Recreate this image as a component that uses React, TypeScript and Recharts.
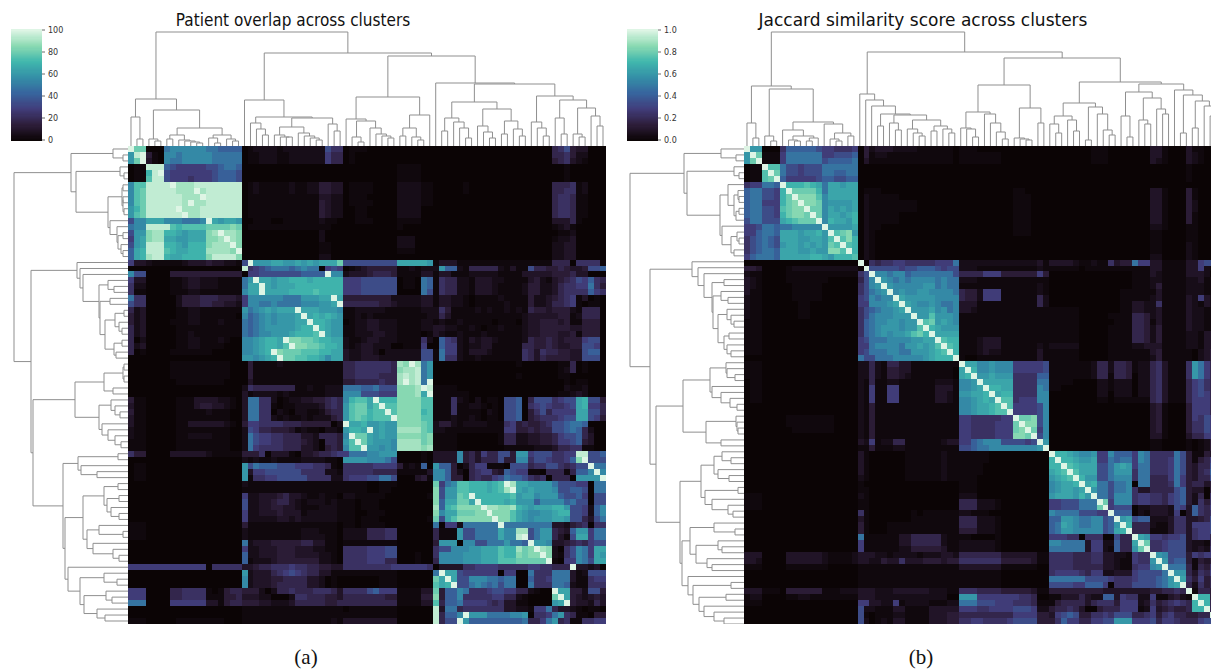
import { ScatterChart, Scatter, XAxis, YAxis } from 'recharts'

// one character per cell, looked up in CELL_LEVELS (0 to 100)
// segments follow the four cluster blocks: 3 3 13 | 17 | 15 | 29 cells, missing cells are 0
const overlapRows = [
  'kgg 000 abbbbbbaa9999 01222212222222866 0111 00000000000000000000568433',
  'cjk 410 bbabbbbbaaaaa 01122211222222755 01 00000000000000000000556422',
  'cgk 310 baabbbbbaaaaa 01122211222222755 01 00000000000000000000456321',
  '011 jjj 9877777889aa9 0 000000000111100 000000000000000000000010',
  '011 ejk 8777777789998 0 000000000111100 000000000000000000000010',
  '011 fjj 8777677789998 0 000000000111100 000000000000000000000010',
  'bff jjj jkiiijjjjjjjj 01211111211224433 011110000222211 00000100000000000000555612',
  'bfg jjj jjiiikijjjjjj 01211111211224433 011110000222211 00000100000000000000556612',
  'bfg jjj jjjiiikjjjjjj 01111111111113322 011100000222211 00000000000000000000566511',
  'bfg jjj jjjikiijjjjjj 01111111111114322 011110000222211 00000000000000000000566511',
  'ceg jjj jjkiiijjjjjjj 01111111111114322 001100000222200 00000000000000000000566511',
  'cfg jjj jjjkiijjjjjjj 01111111111114322 001100000222200 00000000000000000000566511',
  '8bb ddd bbbaaabkdcddc 00111001111112110 001110000111100 00000000000000000000333510',
  'abb jjj jfeffffgggghg 01111111111111100 000000000100 00000000000000000000123100',
  '8cc hii eedcdddhikiih 00000000000002000 000000000000 00000000000000000000011200',
  '7cd hii ddccdddhhikih 00000000000002000 000000000222 00000000000000000000122300',
  '8cd jjj eedceeehiiikh 00000000000001100 000000000222 00000000000000000000223300',
  '9de jjj feddeeeiiiihk 00000000000001100 000000000111 00000000000000000000223300',
  '9de ijj eddeeeehjjjjh 00000000000002200 000000000000 00000000000000000000223300',
  '733 211 1112333433221 8kcccddccdcdcdddg 888888888dddddc 13331111111111111111555066661',
  '0 0 0 j6789aaa9abaa0787 012344444112122 2c992155555213118554454334889',
  'b88 000 0444444444444 07788888889999kbb 233345554111133 13311122222111133333444533',
  '733 000 0112332221111 ackddcddeeedeeeee 7778888880110a9 16552213332211113421345687965',
  '622 000 0112332221111 addkdcdddeeeeeeee 7778888880110a9 16552213332111124422356677a64',
  '611 000 0111221111111 bddkddddeeeefeeee 7778888880000a8 16552213332111124422356666976',
  'a66 000 0024445554443 7bbbbbbaaacccddkd 444444442222233 1332210111121111422345671301',
  '866 000 0024445544332 7bbaabaaaabbbccdk 555555443222233 1332210111112111422355671011',
  '523 000 0011221111111 cabcdcdddkdddcccb 112222211111122 2641111212112121544344421555',
  '423 000 0011221111110 b9abcbcccdkdededc 112121111111112 2531111111111112333334412555',
  '423 000 0111221112111 a9abcbcccddkeedcc 012233222111122 1211211111011102334443411444',
  '523 000 0011111111111 a9abcccccdeekedcc 112233222111122 3322112101121112334444433444',
  '523 000 0011211111111 a9abbcccdeeefkdcc 112223322111101 3211211121111112334443341444',
  '502 000 0011221112100 bbcdeedkhhggfeedd 211233222111162 0976213233211112544543444788',
  '523 000 0011221111000 bbcdeedfkhhggfeed 212332220011170 0977212233111115544543344887',
  '501 000 0111111100000 bbcdekhgggfffeedd 322332022222288 1a77213332111116536554433899',
  '000 000 0000000000000 ccbcdekggffeedbdd 322333222222288 1a66211211111116535444433888',
  '000 000 0111111111100 04111121111111111 556666665ihkiac 00000000000000100000011501',
  '000 000 0111111111100 04111111111111111 556666665hiijac 00000000000000000000012501',
  '000 000 0111111111100 04111111111111111 556666555ijijac 00000000000000100000011000',
  '000 000 0011111111000 03111111111111111 445555655ikijak 00000000000000000000001011',
  '000 000 0000000000000 26555555511211222 aaa99a888hhhikj 11110000000000000000002112',
  '000 000 0000000000000 31222212111111222 bbb888777hhhidk 11111100000000000000011232',
  '411 000 0011133332210 3aa66201223344565 beffdkeeehhhhff 1116 21020110889058886788 de884',
  '311 000 0011134433210 3aa66101122223565 cfggdfkffhhhhff 1116 11221010889067876678 de775',
  '411 000 0011111211100 3aa66021022112455 cfggeffkfhhhhef 1116 11110210889046857777 dd885',
  '311 000 0011111111100 3aa66212112122245 cfgfefffkhhhhff 1112 11210110889045666788 dd874',
  '311 000 0011333333210 47766665554444402 kddeccdcchhhhgf 2442 12222111 6745 4456889a a90',
  '211 000 0011111111100 28755444312110221 ceedkcdcciiiigf 2211 11111111 7744 5455889 a952',
  '211 000 0011222211100 2a877665553325554 bkggdcdcchhhhgh 1111 00000001 5522 3344578 8953',
  '111 000 0011111111100 2a877665554320554 cfkgdcccbiiiigh 1111 00000001 5522 3344577 8943',
  '111 000 0011111111100 2a766665553320454 bffkccbcbiiiihi 1111 00000000 1111 1222355 6611',
  '644 000 0333333211111 44460333103345567 7aaabbccc000010 3333b453755884cc78886677jj889',
  '000 000 0000000000000 21211211112222110 ccccbbba8000010 3333b453555844bb68876679hk888',
  '011 000 0000000000000 c8a99988877766510 666667777412190 c99402577111088856688656 88kaa',
  '011 000 0000000000000 c3778888886666221 666665555111113 bb942056774398771105551599bkb',
  '011 000 0000000000000 c1667788888666622 677788aa8000341 bb9440565578a9986560555 0cccck',
  '000 000 0000000000000 21111111111111111 111100111000000 g7abffeeedefkiddcccca88877 0aa',
  '000 000 0000000000000 11111111111111111 111100110000000 h8ccffeeedefikdcdcccb8899 8 0 a a',
  '000 000 0000000000000 72233345332112110 221111100000001 h8ccgfkeeeeeefcddbccc9889 7 0 88',
  '000 000 0000000000000 82233455321222121 110111000000000 h9ddggdkeeeedeccc9bbbb9a8 8 0 8 8',
  '000 000 0000000000000 82233443321112221 110111000000000 i9efhhhhkiihhiedcdddeec8 8 7 2 9b',
  '000 000 0000000000000 72233343331222221 110011100000000 hbddggghhkhhhfdcbbccdee8 8 7 2 9b',
  '000 000 0000000000000 72222233232222221 110111000000001 g8dfhhhhhhkhhfdcbcccddc8 8 5 3 8a',
  '111 000 0000000000000 41111111111111110 110111100000000 a0772aaaaaakaaaaaaaa332456066',
  '111 000 0000000000000 21111111112221110 222255566000000 5111c88aaaadbbii8acc5439cc7aa',
  '111 000 0000000000000 21111111112222110 222255566000000 5111c88aaaadbbjk8acc5318dd7aa',
  '000 000 0000000000000 a2333444445533110 111111111000000 4ccc0bb88aaacaa9kccb334565788',
  '000 000 0000000000000 72233344433322110 666677788000000 688bbbccdddfeeighkih2068ba7dd',
  '000 000 0000000000000 92233344433332210 666677788000100 6bbbbcccdddfeehghhkh2168ba7dc',
  '000 000 0000000000000 91222344444442210 666677755000100 5bbbbcccdddfffgggggk1077ba8dd',
  '777 777 7777777066666 33455666766554433 666666667777776 03333667777666667766555k33230',
  '000 000 0000000000000 c2333567876553311 111111111000000 akdd877777707700a666aaa312888',
  '000 000 0000000000000 b2333445555332010 000000111000000 gdkd88bbbaa9aa009667aaa311677',
  '000 000 0000000000000 b2333455555332010 000000111000000 fdek88aba9a8aa00a666aa9211666',
  '777 000 0556666101455 44420255655566653 666689777111133 g499ba66678877552100kdd442884',
  '777 000 0556666111445 33322000266555443 555555544111144 h499b666667755210000gkd432343',
  'aaa 000 0777777331455 44433222355555445 555555555111133 f599a777765633110000cdk433253',
  '000 000 0000000000000 11111111111111111 011111111000000 j3aa566666663322177a533210110',
  '000 000 0000000000000 11111111111111111 111111111000000 j599bkcccaaaabbc0667ac6511044',
  '111 000 0011111111000 11111111111111121 333333333000000 j588kc999999999a557ac56116677',
]

// lower triangle only, the Jaccard score is symmetric
const jaccardRows = [
  'k',
  'ck',
  'cgk',
  '011 k',
  '011 fk',
  '011 fgk',
  '677 aa9 k',
  '9aa 887 ek',
  '9aa 887 egk',
  '9aa 777 eghk',
  '9aa 887 fghhk',
  '9aa 887 eghhgk',
  '8aa 888 defgggk',
  '778 aa9 aabbbbbk',
  '779 aa9 dddcddeck',
  '689 a98 dddccddcfk',
  '689 a98 cddcdcdcgfk',
  '689 aa9 dddccdcchhfk',
  '79a aa9 dddddeedceeefk',
  '000 000 0000000000000 k',
  '443 000 0122222222222 0k',
  '211 000 0111111111111 68k',
  '321 000 0111111100000 58bk',
  '321 000 0011111000000 68bck',
  '311 000 0011111000000 68abck',
  '211 000 0011111000000 78babbk',
  '211 000 0001100000000 77bbbcdk',
  '211 000 0001100000000 689abbcdk',
  '211 000 0001100000000 68abbbccck',
  '111 000 0000000000000 69abbccbcck',
  '111 000 0000000000000 69abcccbccfk',
  '111 000 0000000000000 69abcbccdfgek',
  '111 000 0000000000000 78aaabbbbccddk',
  '111 000 0000000000000 77abbbbaccdcdfk',
  '111 000 0000000000000 78aaabbaacccdefk',
  '000 000 0000000000000 a88aaabbbbbcdeeek',
  '111 000 0000000000000 22521553311111111 k',
  '111 000 0000000000000 22521443311111110 dk',
  '111 000 0000000000000 22521443211111110 dek',
  '011 000 0000000000000 21511221111112221 bbck',
  '011 000 0000000000000 21711771111113331 bbcdk',
  '011 000 0000000000000 21711771111113321 ccddek',
  '011 000 0000000000000 21711771111113321 bbcdedk',
  '000 000 0000000000000 21411111111111111 bbcddefk',
  '000 000 0000000000000 21411111111111111 bbcddeffk',
  '000 000 0111111110000 21411111111111111 776666677k',
  '000 000 0111111110000 21411111111111111 776666777gk',
  '000 000 0011111110000 21411111111111111 776666777ghk',
  '000 000 0000000000000 21411111111111111 776666777hhgk',
  '000 000 0000000000000 32712255111111233 779abbb888878k',
  '000 000 0000000000000 11411122111111111 889aabbbbbbbbck',
  '000 000 0000000000000 31000000111111211 111110000000000 k',
  '000 000 0000000000000 31000000111111211 111110000000000 ek',
  '000 000 0000000000000 31000000111111211 111100000000000 eek',
  '000 000 0000000000000 31000000111111211 111100000000000 defk',
  '000 000 0000000000000 21000000111111211 111000000000000 cdefk',
  '000 000 0000000000000 10000000000000000 111000000000000 bcddek',
  '000 000 0000000000000 11000000000000000 111000000000000 bcddcdk',
  '111 000 0000000000000 21000000000000000 222000000000000 cdddceck',
  '111 000 0000000000000 11000000000000000 555222100000000 77888aaak',
  '111 000 0000000000000 11000000000000000 555222100000000 77888aaagk',
  '000 000 0000000000000 61000000010111111 221110000000000 baaaa88877k',
  '000 000 0000000000000 31000000011111111 555222100000000 99ccbaabb89k',
  '000 000 0000000000000 41000111111111111 555222100000000 9adcbaabb89ck',
  '000 000 0000000000000 41000111111111111 444222100000000 9accbbbbb89dek',
  '000 000 0000000000000 a1111113355555211 110000100000000 77766066600855k',
  '000 000 0000000000000 71111113355555211 222222100000000 bbaaaa37722955dk',
  '000 000 0000000000000 71111112244444311 222222100000000 aaaaaa37721955cgk',
  '333 000 0333333211112 33322122221222332 555555533333311 66665556633221766k',
  '332 000 0333333211112 33224336333444344 666666644444311 66665556633211766ck',
  '111 000 0111111100000 11111111111111111 333333311111100 6666555553 3211 677bck',
  '000 000 0000000000000 11111111111111111 111111100000000 67777657722333788 88ak',
  '000 000 0000000000000 11111111111111111 111111100000000 aaaaaa88887666 78889ack',
  '000 000 0000000000000 11111111111111111 111111100000000 88887799970666888 89acdk',
  '333 111 0444444111222 33322233333322211 666555544444311 44444444433333333 445565k',
  '122 000 0112211111111 33322222222222200 ccc777777766500 11333532299376622 7113421k',
  '111 000 0000000000000 77332271222211122 aaa888777666511 14555535666477723 6456765ek',
  '000 000 0000000000000 82211133111133333 777667777888722 45565300455577712 7345445eek',
  '000 000 0000000000000 81011122111133344 555555555777744 37898446676888556 74675544 55k',
  '000 000 0000000000000 82012133111133344 667766667888844 469775577 88ccc777 85776555 788k',
]

const overlapTicks = [0, 20, 40, 60, 80, 100]
const jaccardTicks = [0, 0.2, 0.4, 0.6, 0.8, 1]

// dendrograms: a merge is [height, left, right], 0 is a leaf
const overlapTop1 = [47, [29, 0, [7, 0, 0]], [36, [7, 0, [5, 0, 0]], [18, [11, [7, 0, 0], [6, 0, [5, 0, [4, 0, [3, 0, 0]]]]], [11, [8, 0, [3, 0, 0]], [7, 0, [5, 0, 0]]]]]]
const overlapTop2 = [46, 0, [29, [23, 0, [17, 0, [11, 0, 0]]], [28, [19, [11, 0, [9, 0, [9, 0, 0]]], [13, 0, [10, 0, [8, 0, [6, 0, 0]]]]], [22, 0, [15, 0, 0]]]]]
const overlapTop3 = [49, [27, 0, [25, [9, 0, [4, 0, 0]], [18, 0, [12, 0, [10, 0, [8, 0, 0]]]]]], [31, [18, [10, 0, 0], [9, 0, [6, 0, 0]]], 0]]
const overlapTop4 = [63, 0, [62, [44, [28, [15, 0, 0], [24, 0, [18, 0, [8, 0, 0]]]], [37, [20, 0, [14, 0, [8, 0, 0]]], [25, [12, 0, 0], [17, 0, [10, 0, 0]]]]], [50, [24, 0, [18, 0, [10, 0, 0]]], [46, [28, 0, [12, 0, 0]], [38, [12, 0, [9, 0, 0]], [30, 0, [20, 0, 0]]]]]]]
const overlapTopTree = [114, overlapTop1, [93, overlapTop2, [90, overlapTop3, overlapTop4]]]

const overlapLeft1 = [57, [15, 0, [5, 0, 0]], [52, [8, 0, [4, 0, 0]], [20, [6, [5, 0, 0], [5, [5, 0, 0], [4, 0, 0]]], [18, 0, [11, 0, [10, [5, 0, 0], [7, 0, [5, 0, 0]]]]]]]]
const overlapLeft2 = [51, 0, [48, 0, [45, 0, [29, [20, 0, [14, 0, 0]], [28, [18, 0, 0], [23, [13, [4, 0, 0], [9, 0, [6, 0, 0]]], [14, [6, 0, 0], [12, 0, 0]]]]]]]]
const overlapLeft3 = [53, [24, [5, [4, 0, 0], [4, 0, 0]], [15, 0, 0]], [29, [17, 0, [13, 0, [8, 0, 0]]], [26, 0, [20, 0, [13, 0, [7, 0, 0]]]]]]
const overlapLeft4 = [65, [50, [10, 0, 0], [47, 0, [31, 0, 0]]], [63, [45, [24, [10, 0, 0], [21, [9, 0, 0], [17, 0, [9, 0, 0]]]], [41, [29, 0, [5, 0, 0]], [35, 0, [15, 0, [9, 0, 0]]]]], [60, 0, [48, [24, 0, [11, 0, 0]], [44, [22, 0, [16, 0, 0]], [31, 0, [23, 0, 0]]]]]]]
const overlapLeftTree = [114, overlapLeft1, [97, overlapLeft2, [95, overlapLeft3, overlapLeft4]]]

const jaccard1 = [60, [23, 0, [8, 0, 0]], [57, [10, 0, [5, 0, 0]], [24, [16, 0, [10, [6, 0, [5, 0, 0]], [8, [5, 0, 0], 0]]], [22, 0, [13, [7, 0, [5, 0, 0]], [10, 0, 0]]]]]]
const jaccard2 = [52, 0, [46, 0, [40, 0, [32, [20, 0, 0], [31, [23, 0, [16, 0, 0]], [26, [17, 0, [13, 0, [10, 0, 0]]], [20, [15, 0, 0], [17, 0, [13, 0, 0]]]]]]]]]
const jaccard3 = [61, [34, [18, 0, [17, 0, [9, 0, 0]]], [32, 0, [23, 0, [14, 0, [7, 0, 0]]]]], [38, [8, 0, [7, 0, [6, 0, 0]]], [23, 0, 0]]]
const jaccard4 = [64, [43, [30, [22, 0, [13, 0, 0]], [26, 0, [15, 0, 0]]], [39, [6, 0, 0], [32, 0, [16, 0, [11, 0, 0]]]]], [62, [54, [30, 0, [9, 0, 0]], [48, [26, 0, [22, 0, 0]], [37, 0, [32, 0, 0]]]], [56, 0, [51, [13, 0, 0], [45, [18, 0, 0], [40, 0, [30, 0, [20, 0, 0]]]]]]]]
const jaccardTree = [114, jaccard1, [94, jaccard2, [88, jaccard3, jaccard4]]]

const N = 80
const HEAT = 478
const DEPTH = 115
const SEGMENTS = [3, 3, 13, 17, 15, 29]
const CODES = '0123456789abcdefghijk'
const CELL_LEVELS = [0, 2, 5, 9, 13, 18, 23, 28, 34, 41, 48, 55, 60, 65, 70, 75, 80, 85, 90, 95, 100]

// mako colormap
const MAKO = ['#0b0405', '#2e1e3b', '#413d7b', '#37659e', '#348fa7', '#40b7ad', '#8bdab2', '#def5e5']

function mako(t: number) {
  const u = Math.max(0, Math.min(1, t)) * (MAKO.length - 1)
  const i = Math.min(Math.floor(u), MAKO.length - 2)
  const f = u - i
  const ch = (hex: string, s: number) => parseInt(hex.slice(s, s + 2), 16)
  const mix = (s: number) => Math.round(ch(MAKO[i], s) * (1 - f) + ch(MAKO[i + 1], s) * f)
  return `rgb(${mix(1)},${mix(3)},${mix(5)})`
}

function parseRow(row: string) {
  const parts = row.split(' ')
  // a few rows hold extra spaces inside the last block, those belong to it
  const all = [...parts.slice(0, 5), parts.slice(5).join('')]
  return SEGMENTS.map((n, i) => (all[i] || '').padEnd(n, '0').slice(0, n)).join('')
}

const level = (ch: string) => CELL_LEVELS[CODES.indexOf(ch)] / 100

function overlapCells() {
  const cells: { x: number; y: number; t: number }[] = []
  overlapRows.forEach((row, r) => {
    const line = parseRow(row)
    for (let c = 0; c < N; c++) cells.push({ x: c + 0.5, y: r + 0.5, t: level(line[c]) })
  })
  return cells
}

function jaccardCells() {
  const lines = jaccardRows.map(parseRow)
  const cells: { x: number; y: number; t: number }[] = []
  for (let r = 0; r < N; r++) {
    for (let c = 0; c < N; c++) {
      const ch = r >= c ? lines[r][c] : lines[c][r]
      cells.push({ x: c + 0.5, y: r + 0.5, t: level(ch) })
    }
  }
  return cells
}

function treeLinks(tree: any) {
  const links: { p: number; h: number }[][] = []
  let leaf = 0
  const walk = (node: any): { p: number; h: number } => {
    if (node === 0) {
      leaf += 1
      return { p: leaf - 0.5, h: 0 }
    }
    const a = walk(node[1])
    const b = walk(node[2])
    links.push([a, { p: a.p, h: node[0] }, { p: b.p, h: node[0] }, b])
    return { p: (a.p + b.p) / 2, h: node[0] }
  }
  walk(tree)
  return links
}

const noMargin = { top: 0, right: 0, bottom: 0, left: 0 }
const place = (left: number, top: number) => ({ position: 'absolute' as const, left, top })

function HeatCell({ cx, cy, payload }: any) {
  const s = HEAT / N
  return <rect x={cx - s / 2} y={cy - s / 2} width={s + 0.6} height={s + 0.6} fill={mako(payload.t)} shapeRendering="crispEdges" />
}

function Heatmap({ cells, left }: { cells: any[]; left: number }) {
  return (
    <div style={place(left, 146)}>
      <ScatterChart width={HEAT} height={HEAT} margin={noMargin}>
        <XAxis type="number" dataKey="x" domain={[0, N]} hide />
        <YAxis type="number" dataKey="y" domain={[0, N]} reversed hide />
        <Scatter data={cells} shape={HeatCell} isAnimationActive={false} />
      </ScatterChart>
    </div>
  )
}

const noDot = () => <g />
const linkLine = { stroke: '#8f8f8f', strokeWidth: 1 }

function TopTree({ tree, left }: { tree: any; left: number }) {
  return (
    <div style={place(left, 146 - DEPTH)}>
      <ScatterChart width={HEAT} height={DEPTH} margin={noMargin}>
        <XAxis type="number" dataKey="p" domain={[0, N]} hide />
        <YAxis type="number" dataKey="h" domain={[0, DEPTH]} hide />
        {treeLinks(tree).map((link, i) => (
          <Scatter key={i} data={link} line={linkLine} shape={noDot} isAnimationActive={false} />
        ))}
      </ScatterChart>
    </div>
  )
}

function LeftTree({ tree, left }: { tree: any; left: number }) {
  return (
    <div style={place(left - DEPTH, 146)}>
      <ScatterChart width={DEPTH} height={HEAT} margin={noMargin}>
        <XAxis type="number" dataKey="h" domain={[0, DEPTH]} reversed hide />
        <YAxis type="number" dataKey="p" domain={[0, N]} reversed hide />
        {treeLinks(tree).map((link, i) => (
          <Scatter key={i} data={link} line={linkLine} shape={noDot} isAnimationActive={false} />
        ))}
      </ScatterChart>
    </div>
  )
}

function ColorBar({ left, ticks, digits }: { left: number; ticks: number[]; digits: number }) {
  const max = ticks[ticks.length - 1]
  const levels = Array.from({ length: 101 }, (_, i) => ({ x: 0.5, y: (i / 100) * max, t: i / 100 }))
  const BarCell = ({ cx, cy, payload }: any) => (
    <rect x={cx - 15.5} y={cy - 0.8} width={31} height={1.6} fill={mako(payload.t)} shapeRendering="crispEdges" />
  )
  return (
    <div style={place(left, 23)}>
      <ScatterChart width={62} height={124} margin={{ top: 7, right: 0, bottom: 7, left: 0 }}>
        <XAxis type="number" dataKey="x" domain={[0, 1]} hide />
        <YAxis
          type="number"
          dataKey="y"
          orientation="right"
          width={31}
          domain={[0, max]}
          ticks={ticks}
          interval={0}
          axisLine={false}
          tickSize={3}
          tickMargin={3}
          tickLine={{ stroke: '#444', strokeWidth: 0.8 }}
          tick={{ fontSize: 8, fill: '#333', fontFamily: 'DejaVu Sans', textAnchor: 'start' }}
          tickFormatter={(v: number) => v.toFixed(digits)}
        />
        <Scatter data={levels} shape={BarCell} isAnimationActive={false} />
      </ScatterChart>
    </div>
  )
}

function Caption({ text, x, y, size, family, squeeze = 1 }: { text: string; x: number; y: number; size: number; family: string; squeeze?: number }) {
  return (
    <div style={{ ...place(x - 300, y), width: 600, textAlign: 'center', fontSize: size, fontFamily: family, lineHeight: 1, color: '#111', whiteSpace: 'nowrap', transform: `scaleX(${squeeze})` }}>
      {text}
    </div>
  )
}

export default function App() {
  return (
    <div style={{ position: 'fixed', left: 0, top: 0, width: 1211, height: 670, overflow: 'hidden', background: '#fff' }}>
      <Caption text="Patient overlap across clusters" x={293} y={12} size={17} family="DejaVu Sans" squeeze={0.9} />
      <ColorBar left={11} ticks={overlapTicks} digits={0} />
      <TopTree tree={overlapTopTree} left={128} />
      <LeftTree tree={overlapLeftTree} left={128} />
      <Heatmap cells={overlapCells()} left={128} />
      <Caption text="(a)" x={306} y={647} size={21} family="Liberation Serif" />

      <Caption text="Jaccard similarity score across clusters" x={923} y={12} size={17} family="DejaVu Sans" />
      <ColorBar left={627} ticks={jaccardTicks} digits={1} />
      <TopTree tree={jaccardTree} left={744} />
      <LeftTree tree={jaccardTree} left={744} />
      <Heatmap cells={jaccardCells()} left={744} />
      <Caption text="(b)" x={921} y={647} size={21} family="Liberation Serif" />
    </div>
  )
}
